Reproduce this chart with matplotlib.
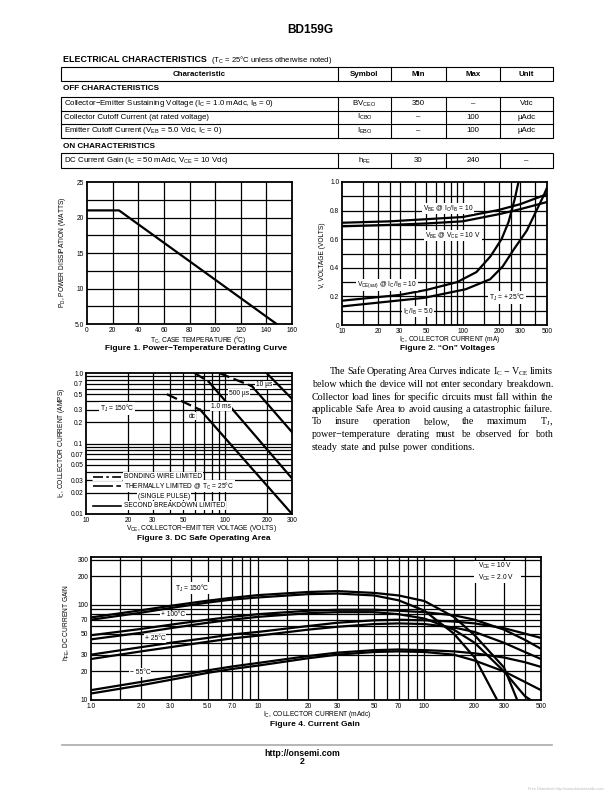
import matplotlib
matplotlib.use("Agg")
import matplotlib.pyplot as plt
from matplotlib.patches import Rectangle
import numpy as np

plt.rcParams['font.family'] = 'Liberation Sans'
plt.rcParams['mathtext.default'] = 'regular'

W, H = 612, 792

# ---------------- data ----------------
# Figure 1: derating
tc_temp = [0, 25, 148]
pd_watts = [21, 21, 5]

# Figure 2: on voltages (mA, volts)
ic_vbe = [10, 25, 50, 100, 200, 300, 500]
vbe_ratio10 = [0.715, 0.725, 0.74, 0.755, 0.805, 0.845, 0.915]
vbe_vce10 = [0.69, 0.70, 0.71, 0.725, 0.775, 0.81, 0.86]
ic_sat10 = [10, 30, 50, 90, 130, 170, 210, 240, 270, 290]
vce_sat10 = [0.17, 0.21, 0.245, 0.30, 0.37, 0.48, 0.60, 0.72, 0.88, 1.0]
ic_sat5 = [10, 48, 106, 169, 215, 266, 340, 466, 500]
vce_sat5 = [0.13, 0.19, 0.25, 0.32, 0.41, 0.53, 0.66, 0.90, 0.96]

# Figure 3: safe operating area (volts, amps) - thermal part, then second breakdown part
soa_names = ['dc', '1.0 ms', '500 us', '10 us']
soa_thermal_v = [[38, 66], [60, 76], [90, 155], None]
soa_thermal_i = [[0.5, 0.30], [1.0, 0.75], [1.0, 0.65], None]
soa_sb_v = [[66, 300], [76, 300], [155, 300], [197, 300]]
soa_sb_i = [[0.30, 0.01], [0.75, 0.032], [0.65, 0.145], [1.0, 0.43]]

# Figure 4: current gain (mA, hFE)
ic_gain = [1, 2, 3, 5, 7, 10, 20, 30, 50, 70, 100, 150, 200, 300, 400, 500]
hfe_150_10v = [74, 88, 98, 111, 119, 127, 137, 140, 134, 126, 110, 75, 48, 22, None, None]
hfe_150_2v = [70, 83, 93, 106, 114, 120, 130, 132, 126, 112, 87, 50, 28, None, None, None]
hfe_100_10v = [48, 56, 62, 70, 75, 80, 87, 89, 89, 87, 84, 78, 70, 55, 43, 34.6]
hfe_100_2v = [43.5, 51, 57, 65, 70, 75, 82, 84, 84, 80, 72, 55, 40, 20, 11, None]
hfe_25_10v = [30, 36, 40, 45, 49, 52, 60, 65, 69, 70, 69, 67, 64, 57, 50, 45]
hfe_25_2v = [27, 32.5, 36, 41, 44.5, 47.5, 55, 59, 63, 64, 63, 58, 52, 40, 32, 27]
hfe_m55_10v = [12.7, 15.5, 17.5, 20.5, 22.5, 24.5, 29, 31.5, 33.5, 34, 33.5, 32.5, 31, 28, 25, 22.3]
hfe_m55_2v = [11.7, 14.3, 16.3, 19.3, 21.2, 23, 27.5, 30, 32, 32.5, 32, 30, 26, 20, 15.5, 12.7]
gain_ends = {'150_10v': (360, 10), '150_2v': (273, 10), '100_2v': (433, 10)}

# table
tbl_cols = ['Characteristic', 'Symbol', 'Min', 'Max', 'Unit']
off_rows = [
    ['Collector\u2212Emitter Sustaining Voltage (I$_C$ = 1.0 mAdc, I$_B$ = 0)', 'BV$_{CEO}$', '350', '\u2013', 'Vdc'],
    ['Collector Cutoff Current (at rated voltage)', 'I$_{CBO}$', '\u2013', '100', '\u00b5Adc'],
    ['Emitter Cutoff Current (V$_{EB}$ = 5.0 Vdc, I$_C$ = 0)', 'I$_{EBO}$', '\u2013', '100', '\u00b5Adc'],
]
on_rows = [
    ['DC Current Gain (I$_C$ = 50 mAdc, V$_{CE}$ = 10 Vdc)', 'h$_{FE}$', '30', '240', '\u2013'],
]

para_lines = [
    'The Safe Operating Area Curves indicate I$_C$ \u2212 V$_{CE}$ limits',
    'below which the device will not enter secondary breakdown.',
    'Collector load lines for specific circuits must fall within the',
    'applicable Safe Area to avoid causing a catastrophic failure.',
    'To insure operation below, the maximum T$_J$,',
    'power\u2212temperature derating must be observed for both',
    'steady state and pulse power conditions.',
]

# ---------------- page ----------------
fig = plt.figure(figsize=(6.12, 7.92), dpi=100)
page = fig.add_axes([0, 0, 1, 1])
page.set_xlim(0, W)
page.set_ylim(H, 0)
page.axis('off')

TS = 4.8   # tick / axis label size


def make_ax(x0, y0, x1, y1):
    ax = fig.add_axes([x0 / W, 1 - y1 / H, (x1 - x0) / W, (y1 - y0) / H])
    for s in ax.spines.values():
        s.set_linewidth(1.3)
    ax.tick_params(length=0, labelsize=TS, pad=2)
    return ax


def ptext(x, y, s, ax=None, **kw):
    kw.setdefault('fontsize', TS)
    kw.setdefault('ha', 'center')
    kw.setdefault('va', 'center')
    tgt = ax if ax is not None else page
    return tgt.text(x, y, s, transform=page.transData, **kw)


def wbox(pad=0.6):
    return dict(facecolor='white', edgecolor='none', pad=pad)


page.text(310, 30, 'BD159G', fontsize=8.6, fontweight='bold', ha='center', va='center')
page.text(63, 59, 'ELECTRICAL CHARACTERISTICS', fontsize=6.4, fontweight='bold', va='center')
page.text(211, 59.5, '(T$_C$ = 25\u00b0C unless otherwise noted)', fontsize=5.5, va='center')

# table grid
col_x = [61, 338, 391, 446, 500, 553]
col_c = [(col_x[i] + col_x[i + 1]) / 2 for i in range(5)]
lw_t = 0.8
FT = 5.7
page.add_patch(Rectangle((61, 67), 492, 14, fill=False, lw=lw_t))
for x in col_x[1:-1]:
    page.plot([x, x], [67, 81], color='k', lw=lw_t)
for i, c in enumerate(tbl_cols):
    page.text(col_c[i], 74, c, fontsize=FT, fontweight='bold', ha='center', va='center')

page.text(63, 88.5, 'OFF CHARACTERISTICS', fontsize=5.9, fontweight='bold', va='center')
row_y = [97, 110.5, 124, 138]
page.add_patch(Rectangle((61, 97), 492, 41, fill=False, lw=lw_t))
for y in row_y[1:-1]:
    page.plot([61, 553], [y, y], color='k', lw=lw_t)
for x in col_x[1:-1]:
    page.plot([x, x], [97, 138], color='k', lw=lw_t)
for r, row in enumerate(off_rows):
    yc = (row_y[r] + row_y[r + 1]) / 2
    page.text(64, yc, row[0], fontsize=FT, va='center')
    for i in range(1, 5):
        page.text(col_c[i], yc, row[i], fontsize=FT, ha='center', va='center')

page.text(63, 146, 'ON CHARACTERISTICS', fontsize=5.9, fontweight='bold', va='center')
page.add_patch(Rectangle((61, 153), 492, 15, fill=False, lw=lw_t))
for x in col_x[1:-1]:
    page.plot([x, x], [153, 168], color='k', lw=lw_t)
row = on_rows[0]
page.text(64, 160.5, row[0], fontsize=FT, va='center')
for i in range(1, 5):
    page.text(col_c[i], 160.5, row[i], fontsize=FT, ha='center', va='center')

GL = 0.9   # grid line width
CL = 1.6   # curve line width

# ---------------- Figure 1 ----------------
ax1 = make_ax(87, 182, 292, 324)
ax1.set_xlim(0, 160)
ax1.set_ylim(5, 25)
for v in np.arange(20, 160, 20):
    ax1.axvline(v, color='k', lw=GL, zorder=1)
for v in np.arange(7.5, 25, 2.5):
    ax1.axhline(v, color='k', lw=GL, zorder=1)
ax1.plot(tc_temp, pd_watts, color='k', lw=CL, zorder=3)
ax1.set_xticks(np.arange(0, 161, 20))
ax1.set_yticks([5, 10, 15, 20, 25])
ax1.set_yticklabels(['5.0', '10', '15', '20', '25'])
ptext(62, 252, 'P$_D$, POWER DISSIPATION (WATTS)', rotation=90)
ptext(198, 339.5, 'T$_C$, CASE TEMPERATURE (\u00b0C)')
ptext(196, 348.5, 'Figure 1. Power\u2212Temperature Derating Curve', fontsize=6, fontweight='bold')

# ---------------- Figure 2 ----------------
ax2 = make_ax(342, 182, 547, 325)
ax2.set_xscale('log')
ax2.set_xlim(10, 500)
ax2.set_ylim(0, 1.0)
ax2.minorticks_off()
for v in [15, 20, 25, 30, 40, 50, 60, 70, 80, 90, 100, 150, 200, 250, 300, 400]:
    ax2.axvline(v, color='k', lw=GL, zorder=1)
for v in np.arange(0.1, 1.0, 0.1):
    ax2.axhline(v, color='k', lw=GL, zorder=1)
ax2.plot(ic_vbe, vbe_ratio10, color='k', lw=CL, zorder=3)
ax2.plot(ic_vbe, vbe_vce10, color='k', lw=CL, zorder=3)
ax2.plot(ic_sat10, vce_sat10, color='k', lw=CL, zorder=3)
ax2.plot(ic_sat5, vce_sat5, color='k', lw=CL, zorder=3)
xt2 = [10, 20, 30, 50, 100, 200, 300, 500]
ax2.set_xticks(xt2)
ax2.set_xticklabels([str(v) for v in xt2])
ax2.set_yticks([0, 0.2, 0.4, 0.6, 0.8, 1.0])
ax2.set_yticklabels(['0', '0.2', '0.4', '0.6', '0.8', '1.0'])
ptext(448, 208.5, 'V$_{BE}$ @ I$_C$/I$_B$ = 10', ax=ax2, bbox=wbox(), zorder=5)
ptext(453, 235.5, 'V$_{BE}$ @ V$_{CE}$ = 10 V', ax=ax2, bbox=wbox(), zorder=5)
ptext(387, 285, 'V$_{CE(sat)}$ @ I$_C$/I$_B$ = 10', ax=ax2, bbox=wbox(), zorder=5)
ptext(418, 311.5, 'I$_C$/I$_B$ = 5.0', ax=ax2, bbox=wbox(), zorder=5)
ptext(507, 297.5, 'T$_J$ = + 25\u00b0C', ax=ax2, bbox=wbox(), zorder=5)
ptext(323, 255, 'V, VOLTAGE (VOLTS)', rotation=90)
ptext(450, 339.5, 'I$_C$, COLLECTOR CURRENT (mA)')
ptext(448, 348.5, 'Figure 2. \u201cOn\u201d Voltages', fontsize=6, fontweight='bold')

# ---------------- Figure 3 ----------------
ax3 = make_ax(86, 373, 292, 514)
ax3.set_xscale('log')
ax3.set_yscale('log')
ax3.set_xlim(10, 300)
ax3.set_ylim(0.01, 1.0)
ax3.minorticks_off()
for dec in [10, 100]:
    for m in range(1, 10):
        v = dec * m
        if 10 < v < 300:
            ax3.axvline(v, color='k', lw=GL, zorder=1)
for dec in [0.01, 0.1]:
    for m in range(1, 10):
        v = dec * m
        if 0.01 < v < 1.0:
            ax3.axhline(v, color='k', lw=GL, zorder=1)
for k in range(len(soa_names)):
    if soa_thermal_v[k] is not None:
        ax3.plot(soa_thermal_v[k], soa_thermal_i[k], color='k', lw=CL, zorder=3,
                 dashes=(5, 2))
    ax3.plot(soa_sb_v[k], soa_sb_i[k], color='k', lw=CL, zorder=3)
xt3 = [10, 20, 30, 50, 100, 200, 300]
ax3.set_xticks(xt3)
ax3.set_xticklabels([str(v) for v in xt3])
yt3 = [0.01, 0.02, 0.03, 0.05, 0.07, 0.1, 0.2, 0.3, 0.5, 0.7, 1.0]
ax3.set_yticks(yt3)
ax3.set_yticklabels(['0.01', '0.02', '0.03', '0.05', '0.07', '0.1', '0.2', '0.3', '0.5', '0.7', '1.0'])
ptext(117, 408.5, 'T$_J$ = 150\u00b0C', ax=ax3, bbox=wbox(), zorder=5)
ptext(192, 416, 'dc', ax=ax3, bbox=wbox(), zorder=5)
ptext(221, 406.5, '1.0 ms', ax=ax3, bbox=wbox(), zorder=5)
ptext(239, 393.5, '500 \u00b5s', ax=ax3, bbox=wbox(), zorder=5)
ptext(264, 385, '10 \u00b5s', ax=ax3, bbox=wbox(), zorder=5)
# legend
leg_y = [476.5, 486, 496, 505.5]
leg_txt = ['BONDING WIRE LIMITED', 'THERMALLY LIMITED @ T$_C$ = 25\u00b0C', '(SINGLE PULSE)',
           'SECOND BREAKDOWN LIMITED']
leg_dash = [(6, 2, 1.5, 2), (12, 2), None]
for j, yy in enumerate([leg_y[0], leg_y[1], leg_y[3]]):
    ax3.plot([92, 122], [yy, yy], color='white', lw=5, transform=page.transData, zorder=4,
             solid_capstyle='butt')
    if leg_dash[j] is None:
        ax3.plot([93, 121], [yy, yy], color='k', lw=1.2, transform=page.transData, zorder=5)
    else:
        ax3.plot([93, 121], [yy, yy], color='k', lw=1.2, transform=page.transData, zorder=5,
                 dashes=leg_dash[j])
for j, yy in enumerate(leg_y):
    xx = 138 if j == 2 else 124
    ptext(xx, yy, leg_txt[j], ax=ax3, ha='left', bbox=wbox(), zorder=5)
ptext(61.5, 443, 'I$_C$, COLLECTOR CURRENT (AMPS)', rotation=90)
ptext(202, 529, 'V$_{CE}$, COLLECTOR\u2212EMITTER VOLTAGE (VOLTS)')
ptext(204, 538, 'Figure 3. DC Safe Operating Area', fontsize=6, fontweight='bold')

# ---------------- Figure 4 ----------------
ax4 = make_ax(91, 557, 541, 700)
ax4.set_xscale('log')
ax4.set_yscale('log')
ax4.set_xlim(1, 500)
ax4.set_ylim(10, 320)
ax4.minorticks_off()
for dec in [1, 10, 100]:
    for m in [1, 1.5, 2, 3, 4, 5, 6, 7, 8, 9]:
        v = dec * m
        if 1 < v < 500:
            ax4.axvline(v, color='k', lw=GL, zorder=1)
for v in [20, 30, 40, 50, 60, 70, 80, 90, 100, 200, 300]:
    ax4.axhline(v, color='k', lw=GL, zorder=1)
gain_series = [('150_10v', hfe_150_10v), ('150_2v', hfe_150_2v), ('100_10v', hfe_100_10v),
               ('100_2v', hfe_100_2v), ('25_10v', hfe_25_10v), ('25_2v', hfe_25_2v),
               ('m55_10v', hfe_m55_10v), ('m55_2v', hfe_m55_2v)]
for key, vals in gain_series:
    xs = [ic_gain[i] for i in range(len(vals)) if vals[i] is not None]
    ys = [v for v in vals if v is not None]
    if key in gain_ends:
        xs.append(gain_ends[key][0])
        ys.append(gain_ends[key][1])
    ax4.plot(xs, ys, color='k', lw=CL, zorder=3)
xt4 = [1, 2, 3, 5, 7, 10, 20, 30, 50, 70, 100, 200, 300, 500]
ax4.set_xticks(xt4)
ax4.set_xticklabels(['1.0', '2.0', '3.0', '5.0', '7.0', '10', '20', '30', '50', '70', '100',
                     '200', '300', '500'])
yt4 = [10, 20, 30, 50, 70, 100, 200, 300]
ax4.set_yticks(yt4)
ax4.set_yticklabels([str(v) for v in yt4])
ptext(192, 588, 'T$_J$ = 150\u00b0C', ax=ax4, bbox=wbox(), zorder=5)
ptext(173, 615, '+ 100\u00b0C', ax=ax4, bbox=wbox(), zorder=5)
ptext(155, 638.5, '+ 25\u00b0C', ax=ax4, bbox=wbox(), zorder=5)
ptext(140, 672.5, '\u2212 55\u00b0C', ax=ax4, bbox=wbox(), zorder=5)
ax4.add_patch(Rectangle((474, 561), 47, 22, transform=page.transData, facecolor='white',
                        edgecolor='none', zorder=4))
ptext(478, 566, 'V$_{CE}$ = 10 V', ax=ax4, ha='left', zorder=5)
ptext(478, 577.5, 'V$_{CE}$ = 2.0 V', ax=ax4, ha='left', zorder=5)
ptext(67, 623, 'h$_{FE}$, DC CURRENT GAIN', rotation=90)
ptext(317, 715, 'I$_C$, COLLECTOR CURRENT (mAdc)')
ptext(315, 725, 'Figure 4. Current Gain', fontsize=6, fontweight='bold')

# ---------------- paragraph (justified) ----------------
renderer = fig.canvas.get_renderer()
para_y = [372, 384.5, 397, 409.5, 422, 434.5, 447]
px0, px1 = 312, 553
for n, line in enumerate(para_lines):
    words = line.split(' ')
    ts = [page.text(0, para_y[n], w, fontsize=7.2, family='Liberation Serif', va='center')
          for w in words]
    widths = [t.get_window_extent(renderer).width for t in ts]
    start = 330 if n == 0 else px0
    if n == len(para_lines) - 1:
        gap = 2.6
    else:
        gap = (px1 - start - sum(widths)) / (len(words) - 1)
    x = start
    for t, w in zip(ts, widths):
        t.set_x(x)
        x += w + gap

# ---------------- footer ----------------
page.plot([62, 552], [745, 745], color='#aaaaaa', lw=1.2)
page.text(302, 753, 'http://onsemi.com', fontsize=6.3, fontweight='bold', ha='center', va='center')
page.text(302, 762, '2', fontsize=6.3, fontweight='bold', ha='center', va='center')
page.text(528, 789, 'Free Datasheet http://www.datasheet4u.com', fontsize=2.8, color='#bbbbbb',
          va='center')

fig.savefig('out.png', dpi=100)
